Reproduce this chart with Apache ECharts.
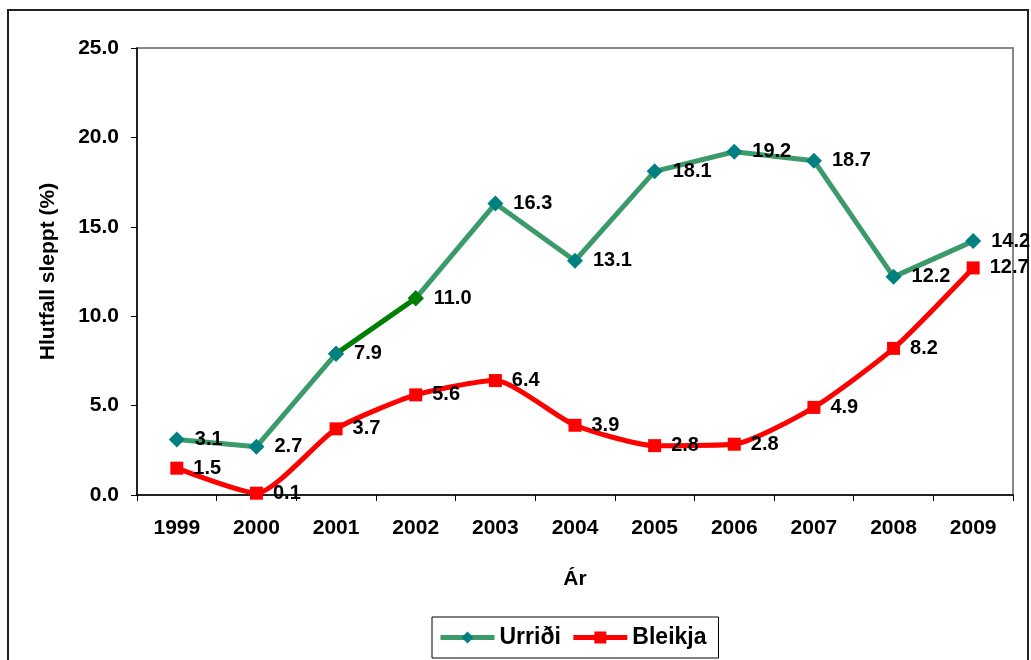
<!DOCTYPE html>
<html>
<head>
<meta charset="utf-8">
<script src="https://cdn.jsdelivr.net/npm/echarts@6/dist/echarts.min.js"></script>
<style>
  html, body { margin: 0; padding: 0; background: #fff; }
  #chart { width: 1031px; height: 660px; }
</style>
</head>
<body>
<div id="chart"></div>
<script>
const years = ['1999', '2000', '2001', '2002', '2003', '2004', '2005', '2006', '2007', '2008', '2009']
const urridi = [3.1, 2.7, 7.9, 11.0, 16.3, 13.1, 18.1, 19.2, 18.7, 12.2, 14.2]
const bleikja = [1.5, 0.1, 3.7, 5.6, 6.4, 3.9, 2.76, 2.84, 4.9, 8.2, 12.7]
const yTicks = [0, 5, 10, 15, 20, 25]

const font = 'Liberation Sans, Arial, sans-serif'
const green = '#3a9a6a'
const teal = '#008080'
const darkGreen = '#008000'
const red = '#ff0000'

// segment 2001-2002 is drawn dark green in the original
const segment = urridi.map((v, i) => {
  if (i === 2) return {value: v, itemStyle: {color: teal}}
  if (i === 3) return {value: v, itemStyle: {color: darkGreen}}
  return null
})

const labelCfg = {
  show: true,
  position: 'right',
  distance: 10,
  color: '#000',
  fontFamily: font,
  fontWeight: 'bold',
  fontSize: 20,
  formatter: (p) => Number(p.value).toFixed(1)
}

const myChart = echarts.init(document.getElementById('chart'))
myChart.setOption({
  animation: false,
  graphic: [{
    type: 'rect',
    shape: {x: 8, y: 10, width: 1020, height: 660},
    style: {fill: 'none', stroke: '#222', lineWidth: 2},
    silent: true
  }],
  grid: {
    left: 137,
    top: 48,
    right: 18,
    bottom: 165,
    show: true,
    borderColor: '#888',
    borderWidth: 2
  },
  legend: {
    top: 617,
    left: 432,
    padding: [9, 12, 9, 6],
    borderColor: '#000',
    borderWidth: 1,
    itemWidth: 54,
    itemHeight: 15,
    itemGap: 10,
    lineStyle: {width: 5},
    textStyle: {fontFamily: font, fontWeight: 'bold', fontSize: 23, color: '#000'},
    data: ['Urriði', 'Bleikja']
  },
  xAxis: {
    type: 'category',
    data: years,
    boundaryGap: true,
    name: 'Ár',
    nameLocation: 'middle',
    nameGap: 74,
    nameTextStyle: {fontFamily: font, fontWeight: 'bold', fontSize: 21, color: '#000'},
    axisLine: {lineStyle: {color: '#000', width: 1.5}},
    axisTick: {show: true, length: 6, lineStyle: {color: '#000'}},
    axisLabel: {fontFamily: font, fontWeight: 'bold', fontSize: 21, color: '#000', margin: 23},
    splitLine: {show: false}
  },
  yAxis: {
    type: 'value',
    min: yTicks[0],
    max: yTicks[yTicks.length - 1],
    interval: 5,
    name: 'Hlutfall sleppt (%)',
    nameLocation: 'middle',
    nameGap: 78,
    nameTextStyle: {fontFamily: font, fontWeight: 'bold', fontSize: 21, color: '#000'},
    axisLine: {show: true, lineStyle: {color: '#000', width: 1.5}},
    axisTick: {show: true, length: 6, lineStyle: {color: '#000'}},
    axisLabel: {
      fontFamily: font, fontWeight: 'bold', fontSize: 21, color: '#000', margin: 18,
      formatter: (v) => v.toFixed(1)
    },
    splitLine: {show: false}
  },
  series: [
    {
      name: 'Urriði',
      type: 'line',
      data: urridi,
      symbol: 'diamond',
      symbolSize: 16,
      itemStyle: {color: teal},
      lineStyle: {color: green, width: 5},
      label: labelCfg,
      z: 3
    },
    {
      name: 'Urriði-seg',
      type: 'line',
      data: segment,
      symbol: 'diamond',
      symbolSize: 16,
      lineStyle: {color: darkGreen, width: 5},
      itemStyle: {color: teal},
      label: {show: false},
      z: 4
    },
    {
      name: 'Bleikja',
      type: 'line',
      data: bleikja,
      smooth: 0.2,
      symbol: 'rect',
      symbolSize: 13,
      itemStyle: {color: red},
      lineStyle: {color: red, width: 5},
      label: labelCfg,
      z: 5
    }
  ]
})
</script>
</body>
</html>
